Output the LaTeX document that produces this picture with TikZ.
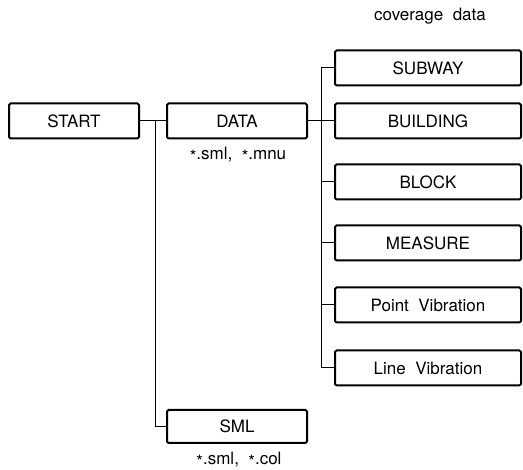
\documentclass[tikz,border=0pt]{standalone}
\usepackage{fontspec}
\setmainfont{TeX Gyre Heros}
\newcommand{\stx}{\raisebox{-0.25ex}{*}}
\begin{document}
\begin{tikzpicture}[x=1pt,y=-1pt,
  box/.style={draw,line width=2pt,rounded corners=1.5pt,inner sep=0pt,minimum height=35pt},
  rbox/.style={box,minimum width=186pt},
  conn/.style={line width=1pt},
  lbl/.style={inner sep=0pt},
  every node/.style={font=\fontsize{17}{20}\selectfont}]
\useasboundingbox (0,0) rectangle (523,470);
\node[box,minimum width=130pt] (start) at (74,121) {START};
\node[box,minimum width=140pt] (data) at (237,121) {DATA};
\node[box,minimum width=140pt,minimum height=33pt] (sml) at (237,426.5) {SML};
\node[rbox] (subway) at (428,68) {SUBWAY};
\node[rbox] (building) at (428,121) {BUILDING};
\node[rbox] (block) at (428,182) {BLOCK};
\node[rbox] (measure) at (428,243) {MEASURE};
\node[rbox] (point) at (428,305) {Point\ \ Vibration};
\node[rbox] (line) at (428,368) {Line\ \ Vibration};
\node[lbl] (cov) at (430,16) {coverage\ \ data};
\node[lbl] (dext) at (238,155) {\stx.sml,\ \ \stx.mnu};
\node[lbl] (sext) at (239,460) {\stx.sml,\ \ \stx.col};
\coordinate (j1) at (155,121);
\coordinate (j2) at (321,68);
\draw[conn] (start.east) -- (data.west);
\draw[conn] (j1) |- (sml.west);
\draw[conn] (data.east) -- (building.west);
\draw[conn] (subway.west) -- (j2) |- (line.west);
\draw[conn] (block.west) -- (block.west -| j2);
\draw[conn] (measure.west) -- (measure.west -| j2);
\draw[conn] (point.west) -- (point.west -| j2);
\end{tikzpicture}
\end{document}
